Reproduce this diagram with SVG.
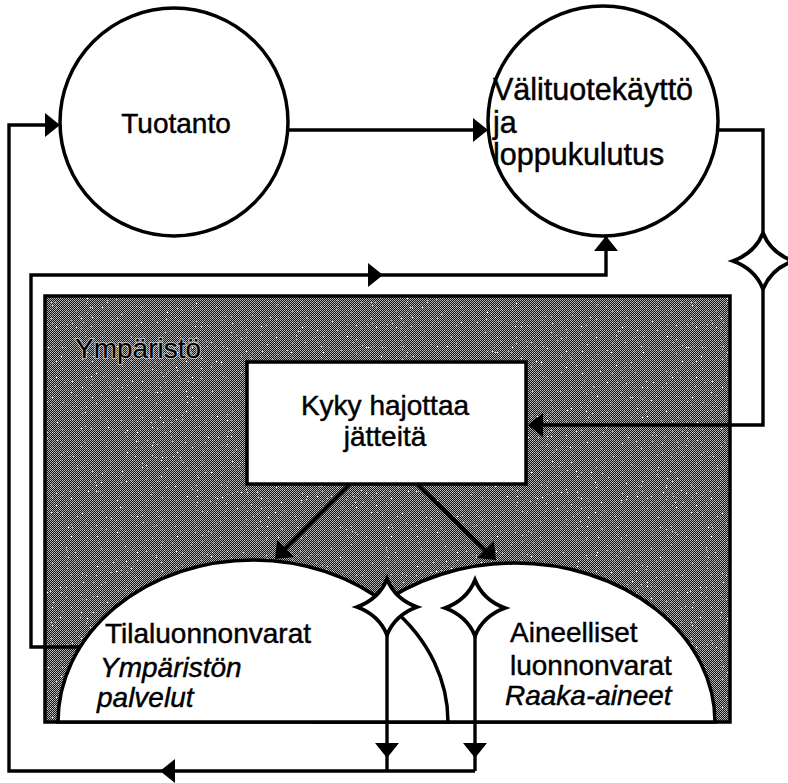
<svg xmlns="http://www.w3.org/2000/svg" width="788" height="783" viewBox="0 0 788 783">
  <style>
    .lbl { font-family: "Liberation Sans", Arial, Helvetica, sans-serif; font-size: 28px; fill: #000; stroke: #000; stroke-width: 0.45; }
    .it { font-style: italic; }
    .mid { text-anchor: middle; }
    .big { font-size: 30.5px; }
    .node { fill: #fff; stroke: #000; stroke-width: 3.5; }
    .wire { fill: none; stroke: #000; stroke-width: 3.4; stroke-linejoin: miter; }
    .thick { stroke-width: 4.2; }
    .head { fill: #000; stroke: none; }
    .star { fill: #fff; stroke: #000; stroke-width: 3.8; stroke-linejoin: miter; stroke-miterlimit: 10; }
    .halo { stroke: #fff; stroke-width: 2.2; stroke-opacity: 0.5; paint-order: stroke; }
  </style>
  <defs>
    <!-- stippled dark grey screen for the environment area -->
    <pattern id="screen" width="2" height="2" patternUnits="userSpaceOnUse">
      <rect width="2" height="2" fill="#141414"/>
      <rect width="1" height="1" fill="#bdbdbd"/>
      <rect x="1" y="1" width="1" height="1" fill="#a8a8a8"/>
    </pattern>
    <!-- sparse white specks -->
    <filter id="specks" x="0" y="0" width="1" height="1">
      <feTurbulence type="fractalNoise" baseFrequency="0.8" numOctaves="1" seed="7" result="n"/>
      <feColorMatrix in="n" type="matrix" values="0 0 0 0 1  0 0 0 0 1  0 0 0 0 1  14 0 0 0 -9.6"/>
    </filter>
    <!-- arrowhead, tip at origin, pointing along +x -->
    <path id="ah" class="head" d="M0,0 L-15,-12 L-15,12 Z"/>
    <!-- four-pointed star with concave sides -->
    <path id="star" d="M0,-28 Q8,-8 30,0 Q8,8 0,28 Q-8,8 -30,0 Q-8,-8 0,-28 Z"/>
  </defs>

  <!-- environment area -->
  <g id="ymparisto">
    <rect x="45" y="296" width="685" height="426" fill="url(#screen)"/>
    <rect x="45" y="296" width="685" height="426" fill="#fff" filter="url(#specks)"/>
    <rect x="45" y="296" width="685" height="426" fill="none" stroke="#000" stroke-width="3.5"/>
    <text x="75" y="358" font-family="Liberation Sans, Arial, sans-serif" font-size="28" class="halo">Ympäristö</text>
  </g>

  <!-- material resources (drawn first, partly covered) -->
  <g id="aineelliset">
    <path class="node" d="M315,722 A200,159 0 0 1 715,722 Z"/>
    <text class="lbl" x="510" y="642">Aineelliset</text>
    <text class="lbl" x="510" y="675">luonnonvarat</text>
    <text class="lbl it" x="505" y="705">Raaka-aineet</text>
  </g>

  <!-- spatial resources -->
  <g id="tilaluonnonvarat">
    <path class="node" d="M58,722 A195,162 0 0 1 448,722 Z"/>
    <text class="lbl" x="105" y="643">Tilaluonnonvarat</text>
    <text class="lbl it" x="100" y="677">Ympäristön</text>
    <text class="lbl it" x="97" y="707">palvelut</text>
  </g>

  <!-- waste assimilation capacity -->
  <g id="kyky">
    <rect class="node" x="247" y="362" width="279" height="122"/>
    <text class="lbl mid" x="385" y="415">Kyky hajottaa</text>
    <text class="lbl mid" x="385" y="446">jätteitä</text>
  </g>

  <!-- production -->
  <g id="tuotanto">
    <circle class="node" cx="174" cy="122" r="114"/>
    <text class="lbl mid" x="176" y="133">Tuotanto</text>
  </g>

  <!-- intermediate use and final consumption -->
  <g id="kulutus">
    <circle class="node" cx="603" cy="121" r="115"/>
    <text class="lbl big" x="493" y="100">Välituotekäyttö</text>
    <text class="lbl big" x="493" y="133">ja</text>
    <text class="lbl big" x="493" y="165">loppukulutus</text>
  </g>

  <!-- connectors -->
  <g id="connectors">
    <path class="wire" d="M288,130 H486"/>
    <path class="wire" d="M58,125 H9 V771 H475"/>
    <path class="wire" d="M387,634 V771"/>
    <path class="wire" d="M475,634 V771"/>
    <path class="wire" d="M80,647 H31 V275 H606 V237"/>
    <path class="wire" d="M717,130 H763 V425 H530"/>
    <path class="wire thick" d="M350,484 L280,554"/>
    <path class="wire thick" d="M417,484 L491,556"/>

    <use href="#ah" transform="translate(60,125)"/>
    <use href="#ah" transform="translate(488,130)"/>
    <use href="#ah" transform="translate(383,275)"/>
    <use href="#ah" transform="translate(606,236) rotate(-90)"/>
    <use href="#ah" transform="translate(528,425) rotate(180)"/>
    <use href="#ah" transform="translate(160,771) rotate(180)"/>
    <use href="#ah" transform="translate(387,758) rotate(90)"/>
    <use href="#ah" transform="translate(475,758) rotate(90)"/>
    <use href="#ah" transform="translate(275,559) rotate(135)"/>
    <use href="#ah" transform="translate(496,560) rotate(45)"/>

    <use href="#star" class="star" transform="translate(763,261)"/>
    <use href="#star" class="star" transform="translate(387,607)"/>
    <use href="#star" class="star" transform="translate(475,608)"/>
  </g>
</svg>
